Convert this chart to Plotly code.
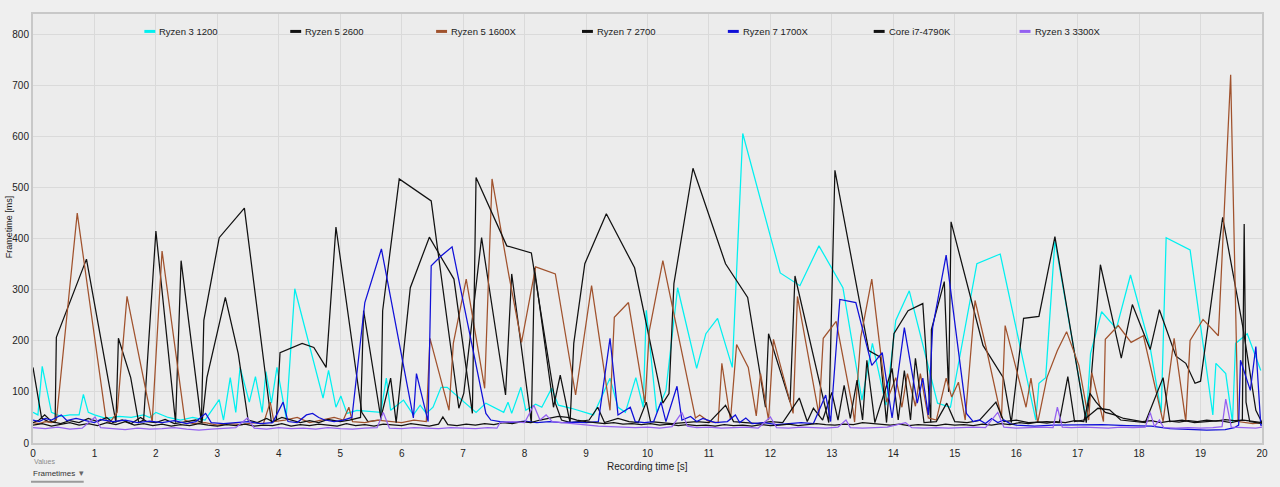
import plotly.graph_objects as go

# ---------------- data (time [s], frametime [ms]) ----------------
SERIES_NAMES = ["Ryzen 3 1200", "Ryzen 5 2600", "Ryzen 5 1600X", "Ryzen 7 2700",
                "Ryzen 7 1700X", "Core i7-4790K", "Ryzen 3 3300X"]
SERIES_COLORS = ["#00f0f0", "#111111", "#a0522d", "#111111", "#1010d8", "#111111", "#9461f0"]

R3_1200 = [(0,60),(0.08,55),(0.15,150),(0.3,60),(0.45,52),(0.6,55),(0.75,55),(0.82,95),(0.9,60),(1.0,55),
           (1.2,48),(1.4,52),(1.6,50),(1.8,55),(1.9,50),(2.0,60),(2.2,50),(2.4,45),(2.6,50),(2.8,45),
           (3.03,85),(3.1,45),(3.21,128),(3.3,60),(3.37,148),(3.52,80),(3.62,130),(3.73,60),(3.79,140),(3.88,78),
           (3.97,148),(4.12,49),(4.26,302),(4.72,88),(4.81,142),(4.93,70),(5.01,92),(5.11,58),(5.27,64),(5.5,62),
           (5.66,60),(5.75,127),(5.82,64),(6.03,84),(6.19,55),(6.30,74),(6.40,58),(6.51,70),(6.64,109),(6.74,109),
           (7.21,60),(7.37,78),(7.66,60),(7.73,80),(7.79,58),(7.94,109),(8.02,64),(8.18,76),(8.28,70),(8.44,107),
           (8.55,74),(8.76,68),(8.99,60),(9.12,55),(9.39,127),(9.52,70),(9.64,60),(9.81,128),(9.93,70),(9.98,260),
           (10.15,60),(10.30,103),(10.49,304),(10.80,146),(10.95,214),(11.14,244),(11.38,148),(11.55,606),(12.16,333),(12.48,308),
           (12.79,386),(13.18,304),(13.49,84),(13.66,195),(13.88,74),(14.04,240),(14.26,298),(14.72,78),(14.93,70),(15.36,351),
           (15.74,370),(16.32,45),(16.37,117),(16.48,128),(16.63,396),(17.14,45),(17.21,175),(17.39,257),(17.63,224),(17.86,329),
           (18.18,187),(18.36,60),(18.44,402),(18.83,378),(19.20,55),(19.25,156),(19.41,136),(19.52,41),(19.57,195),(19.76,214),
           (19.98,142)]

R5_2600 = [(0,148),(0.14,49),(0.25,42),(0.36,40),(0.38,207),(0.87,360),(1.35,40),(1.39,205),(1.59,128),(1.72,40),
           (1.8,45),(2.0,415),(2.32,40),(2.41,357),(2.74,40),(2.78,240),(3.03,402),(3.44,460),(3.88,40),(3.96,45),
           (4.02,177),(4.38,195),(4.57,187),(4.77,148),(4.93,423),(5.35,60),(5.45,42),(5.66,45),(5.69,259),(5.96,517),
           (6.48,474),(6.93,68),(7.01,97),(7.3,402),(7.69,94),(7.79,331),(8.11,39),(8.16,343),(8.47,70),(8.58,133),
           (8.74,40),(8.8,195),(8.98,351),(9.33,449),(9.79,343),(10.25,78),(10.35,97),(10.43,312),(10.74,538),(11.27,351),
           (11.63,285),(11.92,70),(11.97,214),(12.32,80),(12.40,327),(12.74,146),(12.95,40),(13.05,534),(13.6,181),(13.79,168),
           (13.89,40),(14.01,214),(14.24,259),(14.48,273),(14.61,40),(14.62,222),(14.83,316),(14.9,100),(14.94,433),(15.46,191),
           (15.79,128),(15.92,40),(16.12,244),(16.37,248),(16.63,404),(17.14,40),(17.2,97),(17.37,349),(17.71,166),(17.89,271),
           (18.18,183),(18.33,261),(18.6,170),(18.76,156),(18.91,117),(19.0,121),(19.36,442),(19.69,226),(19.9,64),(20.0,40)]

R5_1600X = [(0,40),(0.1,38),(0.2,42),(0.3,40),(0.38,45),(0.72,450),(1.19,45),(1.25,40),(1.37,60),(1.53,287),
            (1.94,41),(2.10,376),(2.47,45),(2.6,38),(2.8,40),(3.0,35),(3.2,38),(3.4,36),(3.6,40),(3.75,38),
            (3.86,80),(3.92,42),(4.1,45),(4.3,50),(4.5,40),(4.7,45),(4.9,50),(5.05,45),(5.14,70),(5.2,42),
            (5.4,40),(5.6,45),(5.8,42),(6.0,40),(6.2,45),(6.4,42),(6.46,205),(6.77,64),(6.84,195),(7.05,321),
            (7.35,107),(7.47,517),(7.74,331),(7.95,197),(8.18,345),(8.50,331),(8.83,94),(9.09,308),(9.39,64),(9.46,246),
            (9.69,275),(9.96,78),(10.03,220),(10.25,357),(10.78,49),(10.85,55),(11.0,42),(11.15,40),(11.21,156),(11.35,45),
            (11.45,193),(11.64,148),(11.77,53),(11.84,136),(11.97,45),(12.05,203),(12.37,58),(12.44,287),(12.79,55),(12.86,205),
            (13.07,238),(13.34,68),(13.37,41),(13.47,207),(13.65,321),(13.89,80),(14.04,128),(14.14,70),(14.23,136),(14.36,72),
            (14.44,136),(14.57,49),(14.7,45),(14.86,127),(14.95,90),(15.06,119),(15.17,45),(15.33,279),(15.51,187),(15.76,49),
            (15.82,230),(16.16,70),(16.24,127),(16.35,40),(16.50,128),(16.67,181),(16.82,218),(17.02,152),(17.18,45),(17.23,138),
            (17.42,42),(17.45,203),(17.66,230),(17.87,197),(18.07,210),(18.39,42),(18.57,205),(18.76,42),(18.83,201),(19.04,242),
            (19.29,210),(19.49,721),(19.61,42),(19.7,40),(19.85,38),(20.0,40)]

R7_2700 = [(0,40),(0.1,45),(0.19,55),(0.3,42),(0.45,38),(0.6,44),(0.75,40),(0.9,48),(1.05,42),(1.2,50),
           (1.3,40),(1.45,45),(1.6,38),(1.75,50),(1.85,42),(2.0,40),(2.15,46),(2.3,38),(2.5,42),(2.65,45),
           (2.75,40),(2.83,128),(3.13,285),(3.34,175),(3.5,45),(3.65,40),(3.8,48),(3.9,42),(4.05,50),(4.2,45),
           (4.35,40),(4.5,44),(4.65,40),(4.8,46),(5.0,42),(5.15,45),(5.33,50),(5.38,259),(5.66,49),(5.82,127),
           (5.91,40),(6.14,304),(6.45,403),(6.61,370),(6.85,321),(7.15,58),(7.21,520),(7.71,386),(8.11,372),(8.5,78),
           (8.6,45),(8.75,40),(8.9,42),(9.05,45),(9.19,70),(9.3,40),(9.52,48),(9.7,42),(9.85,40),(9.98,80),
           (10.05,42),(10.2,40),(10.4,38),(10.6,40),(10.8,42),(11.0,40),(11.27,74),(11.4,42),(11.6,40),(11.8,38),
           (12.0,42),(12.2,40),(12.47,88),(12.6,42),(12.7,68),(12.85,45),(13.0,99),(13.1,45),(13.2,113),(13.3,48),
           (13.41,123),(13.5,45),(13.57,162),(13.7,40),(13.98,146),(14.08,45),(14.18,142),(14.28,45),(14.36,166),(14.5,40),
           (14.7,42),(14.87,78),(15.0,42),(15.2,40),(15.4,44),(15.67,80),(15.8,42),(16.0,45),(16.2,40),(16.5,42),
           (16.7,40),(16.84,130),(16.95,42),(17.1,45),(17.33,68),(17.52,65),(17.7,45),(17.9,42),(18.1,40),(18.39,128),
           (18.5,42),(18.7,45),(18.9,40),(19.1,42),(19.3,44),(19.5,40),(19.6,42),(19.68,45),(19.71,429),(19.74,80),
           (19.8,42),(19.9,40),(20.0,38)]

R7_1700X = [(0,45),(0.1,42),(0.2,48),(0.3,45),(0.46,55),(0.55,44),(0.7,48),(0.9,42),(1.0,40),(1.1,46),
            (1.3,42),(1.5,45),(1.7,40),(1.9,43),(2.1,40),(2.3,44),(2.5,38),(2.65,42),(2.81,58),(2.9,40),
            (3.1,38),(3.3,40),(3.5,42),(3.7,38),(3.9,40),(4.07,80),(4.15,42),(4.3,40),(4.45,55),(4.55,58),
            (4.65,50),(4.75,45),(4.9,42),(5.05,45),(5.19,50),(5.40,275),(5.67,380),(6.19,49),(6.24,136),(6.43,42),
            (6.48,347),(6.64,366),(6.82,384),(7.37,58),(7.45,45),(7.6,42),(7.8,40),(8.0,43),(8.2,40),(8.4,42),
            (8.6,40),(8.8,41),(9.0,40),(9.2,42),(9.39,205),(9.52,55),(9.72,70),(9.8,42),(9.95,40),(10.1,42),
            (10.22,80),(10.3,42),(10.48,111),(10.56,45),(10.7,52),(10.8,42),(10.9,48),(11.1,40),(11.3,42),(11.43,55),
            (11.5,40),(11.6,49),(11.7,38),(11.9,40),(12.1,36),(12.3,38),(12.5,40),(12.7,38),(12.9,94),(12.98,42),
            (13.13,281),(13.39,275),(13.65,152),(13.82,177),(13.98,49),(14.18,226),(14.39,78),(14.48,127),(14.57,55),(14.64,226),
            (14.86,368),(15.19,58),(15.3,42),(15.4,45),(15.5,38),(15.6,48),(15.7,40),(15.8,45),(15.9,38),(16.0,35),
            (16.3,33),(16.6,35),(17.0,35),(17.4,36),(17.8,34),(18.2,33),(18.5,28),(18.8,26),(19.1,25),(19.4,26),
            (19.55,30),(19.62,35),(19.65,162),(19.81,103),(19.9,189),(19.98,35),(20.0,35)]

I7_4790K = [(0,35),(0.15,38),(0.3,33),(0.45,36),(0.6,40),(0.75,35),(0.9,38),(1.05,34),(1.2,40),(1.35,36),
            (1.5,42),(1.65,35),(1.8,38),(1.95,34),(2.1,37),(2.25,33),(2.4,36),(2.55,34),(2.7,38),(2.85,35),
            (3.0,33),(3.15,36),(3.3,34),(3.45,37),(3.6,33),(3.75,35),(3.9,34),(4.05,38),(4.2,33),(4.35,36),
            (4.5,34),(4.65,37),(4.8,35),(4.95,33),(5.1,38),(5.25,34),(5.4,36),(5.55,33),(5.7,37),(5.85,35),
            (6.0,34),(6.15,38),(6.3,35),(6.45,33),(6.6,37),(6.67,51),(6.75,36),(6.9,34),(7.05,37),(7.2,35),
            (7.35,38),(7.5,36),(7.65,40),(7.8,38),(7.95,42),(8.1,40),(8.25,45),(8.4,48),(8.55,52),(8.7,50),
            (8.85,45),(9.0,42),(9.15,40),(9.3,38),(9.45,40),(9.6,37),(9.75,38),(9.9,36),(10.05,38),(10.2,35),
            (10.35,37),(10.5,34),(10.65,36),(10.8,34),(10.95,35),(11.1,33),(11.25,36),(11.4,34),(11.55,35),(11.7,33),
            (11.85,36),(12.0,34),(12.15,35),(12.3,37),(12.45,34),(12.6,36),(12.75,38),(12.9,36),(13.05,35),(13.2,37),
            (13.35,36),(13.5,40),(13.65,38),(13.8,36),(13.95,35),(14.1,37),(14.25,34),(14.4,36),(14.55,35),(14.7,34),
            (14.85,37),(15.0,35),(15.15,36),(15.3,34),(15.45,37),(15.6,35),(15.75,38),(15.9,36),(16.05,40),(16.2,38),
            (16.35,41),(16.5,39),(16.65,42),(16.8,40),(16.95,44),(17.1,42),(17.2,97),(17.3,80),(17.45,60),(17.6,55),
            (17.75,48),(17.9,45),(18.05,42),(18.2,44),(18.35,40),(18.5,43),(18.65,41),(18.8,44),(18.95,42),(19.1,45),
            (19.25,43),(19.4,46),(19.55,44),(19.7,45),(19.85,42),(20.0,40)]

R3_3300X = [(0,30),(0.2,28),(0.4,31),(0.6,27),(0.8,29),(1.01,51),(1.1,30),(1.3,28),(1.5,26),(1.7,29),
            (1.9,27),(2.1,28),(2.3,30),(2.5,27),(2.7,25),(2.9,27),(3.1,28),(3.3,30),(3.49,49),(3.6,29),
            (3.8,27),(4.0,30),(4.2,28),(4.4,29),(4.6,27),(4.8,30),(5.0,28),(5.2,27),(5.4,29),(5.6,30),
            (5.70,60),(5.8,29),(6.0,28),(6.2,30),(6.4,29),(6.6,28),(6.8,30),(7.0,29),(7.2,28),(7.4,30),
            (7.55,29),(7.6,40),(7.8,42),(8.0,40),(8.15,74),(8.25,45),(8.35,55),(8.45,42),(8.6,40),(8.8,38),
            (9.0,36),(9.2,33),(9.4,32),(9.6,31),(9.8,30),(10.0,31),(10.2,29),(10.4,32),(10.56,60),(10.65,33),
            (10.8,30),(11.0,31),(11.2,29),(11.4,30),(11.6,31),(11.8,29),(12.0,51),(12.1,30),(12.3,29),(12.5,31),
            (12.7,30),(12.9,29),(13.1,31),(13.23,45),(13.3,30),(13.5,29),(13.7,30),(13.9,31),(14.2,40),(14.3,30),
            (14.5,29),(14.7,30),(14.9,29),(15.1,30),(15.3,31),(15.5,30),(15.7,60),(15.8,31),(16.0,29),(16.2,30),
            (16.4,31),(16.6,30),(16.67,70),(16.75,31),(16.9,30),(17.1,31),(17.3,30),(17.5,29),(17.7,31),(17.9,30),
            (18.1,31),(18.18,60),(18.25,32),(18.33,45),(18.4,30),(18.6,29),(18.8,30),(19.0,29),(19.2,30),(19.35,32),
            (19.41,86),(19.5,31),(19.7,30),(19.9,29),(20.0,31)]

SERIES_DATA = [R3_1200, R5_2600, R5_1600X, R7_2700, R7_1700X, I7_4790K, R3_3300X]

X_TICKS = list(range(0, 21))
Y_TICKS = list(range(0, 900, 100))

# ---------------- figure ----------------
W, H = 1280, 487
ML, MR, MT, MB = 31, 13, 12, 44
PW, PH = W - ML - MR, H - MT - MB


def px(xp):
    return (xp - ML) / PW


def py(yp):
    return (H - MB - yp) / PH


FONT = "Liberation Sans, Arial, sans-serif"

fig = go.Figure()
for name, color, data in zip(SERIES_NAMES, SERIES_COLORS, SERIES_DATA):
    t = [p[0] for p in data]
    v = [p[1] for p in data]
    fig.add_trace(go.Scatter(x=t, y=v, mode="lines", name=name,
                             line=dict(color=color, width=1.25), showlegend=False))

axis_common = dict(showgrid=True, gridcolor="#dadada", gridwidth=1, zeroline=False,
                   showline=True, linecolor="#c8c8c8", linewidth=2, mirror=True,
                   ticks="", tickfont=dict(family=FONT, size=10, color="#222222"))

fig.update_layout(
    width=W, height=H, autosize=False,
    margin=dict(l=ML, r=MR, t=MT, b=MB),
    paper_bgcolor="#efefef", plot_bgcolor="#ececec",
    font=dict(family=FONT, size=10, color="#222222"),
    xaxis=dict(range=[0, 20], tickvals=X_TICKS, ticktext=[str(x) for x in X_TICKS], **axis_common),
    yaxis=dict(range=[0, 840], tickvals=Y_TICKS, ticktext=[str(y) for y in Y_TICKS], **axis_common),
)

annotations = []
shapes = []

# legend (manual, horizontal at top)
for i, (name, color) in enumerate(zip(SERIES_NAMES, SERIES_COLORS)):
    x0 = 143 + i * 146.7
    shapes.append(dict(type="line", xref="paper", yref="paper",
                       x0=px(x0), x1=px(x0 + 11), y0=py(29.5), y1=py(29.5),
                       line=dict(color=color, width=3)))
    annotations.append(dict(text=name, xref="paper", yref="paper", x=px(x0 + 13), y=py(29.5),
                            xanchor="left", yanchor="middle", showarrow=False,
                            font=dict(family=FONT, size=9.5, color="#222222")))

# axis titles
annotations.append(dict(text="Frametime [ms]", xref="paper", yref="paper", x=px(7), y=py(226),
                        xanchor="center", yanchor="middle", textangle=-90, showarrow=False,
                        font=dict(family=FONT, size=9, color="#222222")))
annotations.append(dict(text="Recording time [s]", xref="paper", yref="paper", x=px(649), y=py(467),
                        xanchor="center", yanchor="middle", showarrow=False,
                        font=dict(family=FONT, size=10, color="#222222")))
# values selector
annotations.append(dict(text="Values", xref="paper", yref="paper", x=px(30), y=py(462),
                        xanchor="left", yanchor="middle", showarrow=False,
                        font=dict(family=FONT, size=7, color="#8a8a8a")))
annotations.append(dict(text="Frametimes", xref="paper", yref="paper", x=px(29), y=py(473.5),
                        xanchor="left", yanchor="middle", showarrow=False,
                        font=dict(family=FONT, size=8, color="#333333")))
annotations.append(dict(text="\u25be", xref="paper", yref="paper", x=px(80), y=py(473),
                        xanchor="center", yanchor="middle", showarrow=False,
                        font=dict(family=FONT, size=9, color="#666666")))
shapes.append(dict(type="line", xref="paper", yref="paper", x0=px(29), x1=px(82),
                   y0=py(482), y1=py(482), line=dict(color="#9a9a9a", width=2)))

fig.update_layout(annotations=annotations, shapes=shapes)

fig.write_html("out.html")
